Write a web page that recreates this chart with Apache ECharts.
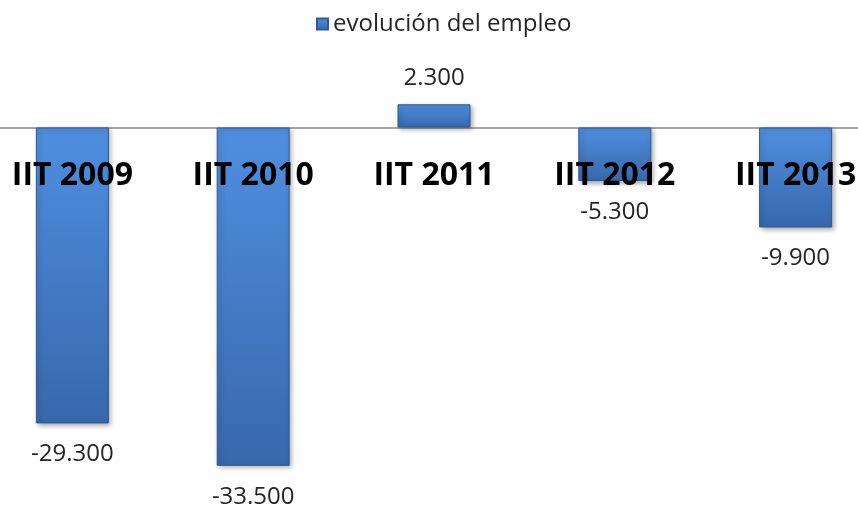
<!DOCTYPE html>
<html>
<head>
<meta charset="utf-8">
<style>
  html, body { margin: 0; padding: 0; background: #fff; }
  #main { width: 858px; height: 508px; }
</style>
<script src="https://cdn.jsdelivr.net/npm/echarts@6/dist/echarts.min.js"></script>
</head>
<body>
<div id="main"></div>
<script>
var categories = ['IIT 2009', 'IIT 2010', 'IIT 2011', 'IIT 2012', 'IIT 2013'];
var empleo = [-29300, -33500, 2300, -5300, -9900];
var seriesName = 'evolución del empleo';

// miles con punto: -29.300
function fmt(v) {
    var s = String(Math.abs(v)).replace(/\B(?=(\d{3})+(?!\d))/g, '.');
    return (v < 0 ? '-' : '') + s;
}

var chartDom = document.getElementById('main');
var myChart = echarts.init(chartDom);
var option;

option = {
    animation: false,
    legend: {
        top: 7,
        left: 311,
        itemWidth: 11,
        itemHeight: 11,
        itemGap: 6,
        icon: 'rect',
        textStyle: { fontFamily: 'Open Sans', fontSize: 24, color: '#262626' },
        data: [seriesName]
    },
    grid: {
        left: -18, right: -28, top: 77, bottom: 27,
        containLabel: false,
        outerBoundsMode: 'none'
    },
    xAxis: [{
        // linea del cero
        type: 'category',
        data: categories,
        axisLine: { onZero: true, lineStyle: { color: '#a6a6a6', width: 2 } },
        axisTick: { show: false },
        axisLabel: { show: false }
    }, {
        // etiquetas encima de las barras
        type: 'category',
        data: categories,
        position: 'top',
        z: 10,
        axisLine: { show: false, onZero: false },
        axisTick: { show: false },
        axisLabel: {
            inside: true,
            margin: 83,
            color: '#000',
            fontFamily: 'Open Sans',
            fontWeight: 'bold',
            fontSize: 32
        }
    }],
    yAxis: {
        type: 'value',
        min: -35000,
        max: 5000,
        show: false,
        splitLine: { show: false }
    },
    series: [{
        name: seriesName,
        type: 'bar',
        xAxisIndex: 0,
        barWidth: 73,
        data: empleo.map(function (v) {
            return {
                value: v,
                label: { position: v < 0 ? 'bottom' : 'top', distance: v < 0 ? 19 : 14 }
            };
        }),
        itemStyle: {
            color: new echarts.graphic.LinearGradient(0, 0, 0, 1, [
                { offset: 0, color: '#4f8fe0' },
                { offset: 1, color: '#3868ac' }
            ]),
            borderColor: '#2f5a95',
            borderWidth: 1,
            shadowColor: 'rgba(0,0,0,0.35)',
            shadowBlur: 5,
            shadowOffsetX: 2,
            shadowOffsetY: 2
        },
        label: {
            show: true,
            color: '#262626',
            fontFamily: 'Open Sans',
            fontSize: 24,
            formatter: function (p) { return fmt(p.value); }
        }
    }]
};

option && myChart.setOption(option);
</script>
</body>
</html>
